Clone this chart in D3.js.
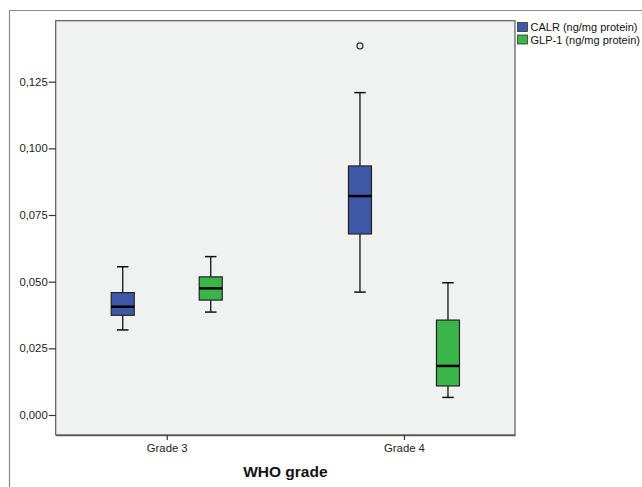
<!DOCTYPE html>
<html><head><meta charset="utf-8">
<script src="https://cdn.jsdelivr.net/npm/d3@7"></script>
<style>body{margin:0;background:#fff}svg{display:block}text{font-family:Arial,"Liberation Sans",sans-serif}</style>
</head><body>
<script>
const categories = ["Grade 3", "Grade 4"];
const seriesNames = ["CALR (ng/mg protein)", "GLP-1 (ng/mg protein)"];
const seriesColors = ["#3f57a7", "#3bb54a"];
// [lowerWhisker, q1, median, q3, upperWhisker]
const calrStats = [[0.0319, 0.0374, 0.0406, 0.0459, 0.0556], [0.0461, 0.0679, 0.0821, 0.0934, 0.1209]];
const glpStats = [[0.0386, 0.0431, 0.0475, 0.0518, 0.0594], [0.0066, 0.0109, 0.0184, 0.0356, 0.0496]];
const calrOutliers = [[], [0.1384]];
const glpOutliers = [[], []];
const yTicks = [0, 0.025, 0.05, 0.075, 0.1, 0.125];

const W = 642, H = 487;
const svg = d3.select("body").append("svg").attr("width", W).attr("height", H);
const L = 55.7, R = 515, T = 20.7, B = 435;

// outer frame
svg.append("path").attr("d", `M9.5,${H}V10.5H${W}`).attr("fill", "none").attr("stroke", "#8a8a8a").attr("stroke-width", 1.2);

const y = d3.scaleLinear().domain([0, 0.125]).range([415, 81.7]);
const x = d3.scalePoint().domain(categories).range([L, R]).padding(0.468);
const off = d3.scalePoint().domain([0, 1]).range([-44, 44]);

svg.append("rect").attr("x", L).attr("y", T).attr("width", R - L).attr("height", B - T)
  .attr("fill", "#f0f1f1").attr("stroke", "#5a5a5a").attr("stroke-width", 1.2);

// y axis
const fmt = d => d3.format(".3f")(d).replace(".", ",");
const ya = svg.append("g").attr("transform", `translate(${L},0)`)
  .call(d3.axisLeft(y).tickValues(yTicks).tickFormat(fmt).tickSize(7).tickSizeOuter(0));
ya.select(".domain").remove();
ya.selectAll(".tick line").attr("stroke", "#333").attr("stroke-width", 1.2);
ya.selectAll(".tick text").attr("font-size", 11.3).attr("fill", "#222").attr("x", -8)
  .style("font-family", "Arial, 'Liberation Sans', sans-serif");

// x axis
const xa = svg.append("g").attr("transform", `translate(0,${B})`)
  .call(d3.axisBottom(x).tickSize(5).tickSizeOuter(0));
xa.select(".domain").attr("stroke", "#555").attr("stroke-width", 1.5);
xa.selectAll(".tick line").attr("stroke", "#333").attr("stroke-width", 1.2);
xa.selectAll(".tick text").attr("font-size", 11.3).attr("fill", "#222").attr("y", 9)
  .style("font-family", "Arial, 'Liberation Sans', sans-serif");

svg.append("text").attr("x", (L + R) / 2).attr("y", 476.5).attr("text-anchor", "middle")
  .attr("font-size", 15.5).attr("font-weight", "bold").attr("fill", "#111").text("WHO grade");

const allStats = [calrStats, glpStats];
const allOut = [calrOutliers, glpOutliers];
const bw = 23;
allStats.forEach((stats, si) => {
  stats.forEach((s, ci) => {
    const cx = x(categories[ci]) + off(si);
    const g = svg.append("g");
    g.append("line").attr("x1", cx).attr("x2", cx).attr("y1", y(s[0])).attr("y2", y(s[1])).attr("stroke", "#111").attr("stroke-width", 1.3);
    g.append("line").attr("x1", cx).attr("x2", cx).attr("y1", y(s[3])).attr("y2", y(s[4])).attr("stroke", "#111").attr("stroke-width", 1.3);
    [s[0], s[4]].forEach(v => g.append("line").attr("x1", cx - bw / 4).attr("x2", cx + bw / 4).attr("y1", y(v)).attr("y2", y(v)).attr("stroke", "#111").attr("stroke-width", 1.5));
    g.append("rect").attr("x", cx - bw / 2).attr("width", bw).attr("y", y(s[3])).attr("height", y(s[1]) - y(s[3]))
      .attr("fill", seriesColors[si]).attr("stroke", "#222").attr("stroke-width", 1.2);
    g.append("line").attr("x1", cx - bw / 2).attr("x2", cx + bw / 2).attr("y1", y(s[2])).attr("y2", y(s[2])).attr("stroke", "#000").attr("stroke-width", 2.5);
    allOut[si][ci].forEach(v => g.append("circle").attr("cx", cx).attr("cy", y(v)).attr("r", 3).attr("fill", "none").attr("stroke", "#333").attr("stroke-width", 1.2));
  });
});

// legend
seriesNames.forEach((n, i) => {
  const ly = 22.5 + i * 12.5;
  svg.append("rect").attr("x", 517.5).attr("y", ly).attr("width", 10).attr("height", 9)
    .attr("fill", seriesColors[i]).attr("stroke", "#333").attr("stroke-width", 0.8);
  svg.append("text").attr("x", 530.5).attr("y", ly + 8.5).attr("font-size", 11).attr("fill", "#111").text(n);
});
</script>
</body></html>
